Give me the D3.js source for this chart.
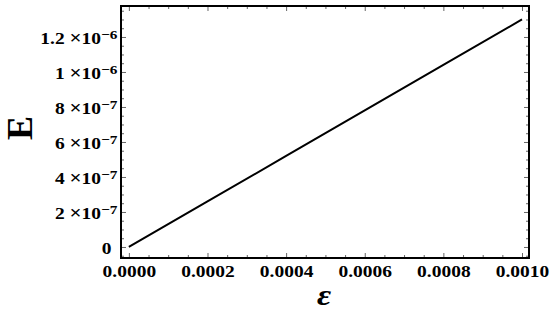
<!DOCTYPE html>
<html>
<head>
<meta charset="utf-8">
<script src="https://cdn.jsdelivr.net/npm/d3@7"></script>
<style>
  body { margin: 0; background: #fff; }
  text { font-family: "Liberation Serif", "Times New Roman", serif; font-weight: bold; }
</style>
</head>
<body>
<div id="chart"></div>
<script>
(function () {
  // strain values and energy
  var epsValues = [0, 0.0002, 0.0004, 0.0006, 0.0008, 0.001];
  var energyValues = [0, 2.6e-7, 5.2e-7, 7.8e-7, 1.04e-6, 1.3e-6];

  // tick labels
  var xTicks = [0, 0.0002, 0.0004, 0.0006, 0.0008, 0.001];
  var xTickLabels = ["0.0000", "0.0002", "0.0004", "0.0006", "0.0008", "0.0010"];
  var yTicks = [0, 2e-7, 4e-7, 6e-7, 8e-7, 1e-6, 1.2e-6];
  var yMantissa = ["0", "2", "4", "6", "8", "1", "1.2"];
  var yExponent = ["", "−7", "−7", "−7", "−7", "−6", "−6"];

  var W = 550, H = 313;
  var margin = {top: 6, right: 21, bottom: 55, left: 121},
      width = W - margin.left - margin.right,
      height = H - margin.top - margin.bottom;

  var x = d3.scaleLinear().domain([-2.0e-5, 1.0178e-3]).range([0, width]);
  var y = d3.scaleLinear().domain([-6.3e-8, 1.377e-6]).range([height, 0]);

  var xMinor = d3.range(0, 21).map(function(i) { return i * 5e-5; })
      .filter(function(v) { return Math.round(v / 5e-5) % 4 !== 0; });
  var yMinor = d3.range(-1, 28).map(function(i) { return i * 5e-8; })
      .filter(function(v) { return Math.round(v / 5e-8) % 4 !== 0 && v >= -6.3e-8; });

  var stretch = 1.18;  // the labels in the picture are a bit wide

  var svg = d3.select("#chart").append("svg")
      .attr("width", W)
      .attr("height", H)
    .append("g")
      .attr("transform", "translate(" + margin.left + "," + margin.top + ")");

  function styleTicks(g) {
    g.select(".domain").remove();
    g.selectAll(".tick line").attr("stroke", "#666").attr("stroke-width", 1);
  }

  // bottom axis
  var xb = svg.append("g")
      .attr("transform", "translate(0," + height + ")")
      .call(d3.axisBottom(x).tickValues(xTicks).tickSize(-5).tickPadding(7)
        .tickFormat(function(d, i) { return xTickLabels[i]; }));
  xb.call(styleTicks);
  xb.selectAll(".tick text")
      .attr("font-size", 16.5)
      .attr("transform", "scale(" + stretch + ",1)")
      .attr("fill", "#000")
      .attr("font-family", "Liberation Serif")
      .attr("font-weight", "bold");
  svg.append("g")
      .attr("transform", "translate(0," + height + ")")
      .call(d3.axisBottom(x).tickValues(xMinor).tickSize(-3).tickFormat(""))
      .call(styleTicks);

  // top axis
  svg.append("g")
      .call(d3.axisTop(x).tickValues(xTicks).tickSize(-5).tickFormat(""))
      .call(styleTicks);
  svg.append("g")
      .call(d3.axisTop(x).tickValues(xMinor).tickSize(-3).tickFormat(""))
      .call(styleTicks);

  // left axis
  var yl = svg.append("g")
      .call(d3.axisLeft(y).tickValues(yTicks).tickSize(-5).tickPadding(3).tickFormat(""));
  yl.call(styleTicks);
  yl.selectAll(".tick text").each(function(d, i) {
    var t = d3.select(this)
        .attr("fill", "#000")
        .attr("font-size", 16.5)
        .attr("dy", "0.4em")
        .attr("transform", "scale(" + stretch + ",1)")
        .attr("font-family", "Liberation Serif")
        .attr("font-weight", "bold");
    if (yExponent[i] === "") {
      t.attr("x", -8).text(yMantissa[i]);
    } else {
      t.append("tspan").text(yMantissa[i] + " ");
      t.append("tspan").attr("font-size", 18).text("×");
      t.append("tspan").text("10");
      t.append("tspan").attr("dy", -5).attr("font-size", 13).text(yExponent[i]);
    }
  });
  svg.append("g")
      .call(d3.axisLeft(y).tickValues(yMinor).tickSize(-3).tickFormat(""))
      .call(styleTicks);

  // right axis
  svg.append("g")
      .attr("transform", "translate(" + width + ",0)")
      .call(d3.axisRight(y).tickValues(yTicks).tickSize(-5).tickFormat(""))
      .call(styleTicks);
  svg.append("g")
      .attr("transform", "translate(" + width + ",0)")
      .call(d3.axisRight(y).tickValues(yMinor).tickSize(-3).tickFormat(""))
      .call(styleTicks);

  // frame
  svg.append("rect")
      .attr("width", width)
      .attr("height", height)
      .attr("fill", "none")
      .attr("stroke", "#000")
      .attr("stroke-width", 2);

  // the line
  var line = d3.line()
      .x(function(d, i) { return x(epsValues[i]); })
      .y(function(d) { return y(d); });

  svg.append("path")
      .datum(energyValues)
      .attr("d", line)
      .attr("fill", "none")
      .attr("stroke", "#000")
      .attr("stroke-width", 2);

  // axis titles
  svg.append("text")
      .attr("transform", "translate(" + (width / 2 - 1) + "," + (height + 47) + ") scale(1.15,1)")
      .attr("text-anchor", "middle")
      .attr("font-size", 30)
      .attr("font-style", "italic")
      .text("ε");

  svg.append("text")
      .attr("transform", "translate(" + (-89) + "," + (y(6e-7) - 14) + ") rotate(-90)")
      .attr("text-anchor", "middle")
      .attr("font-size", 36)
      .text("E");
})();
</script>
</body>
</html>
